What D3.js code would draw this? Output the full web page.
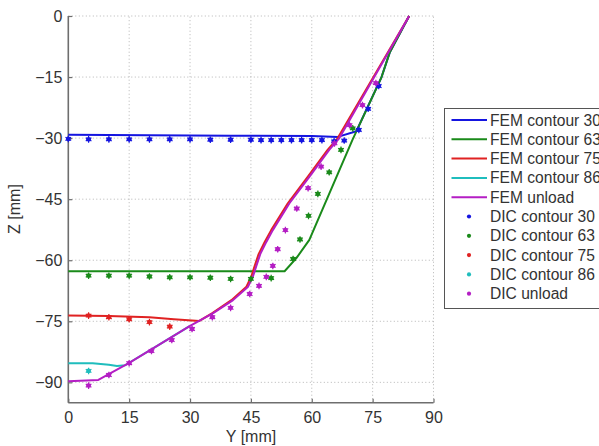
<!DOCTYPE html>
<html><head><meta charset="utf-8">
<script src="https://cdn.jsdelivr.net/npm/d3@7"></script>
<style>
html,body{margin:0;padding:0;background:#fff;}
svg{display:block;font-family:"Liberation Sans",Arial,sans-serif;}
</style></head>
<body><svg id="c" width="599" height="446"></svg>
<script>
// ---- data ----
const xTicks = [0, 15, 30, 45, 60, 75, 90];
const yTicks = [0, -15, -30, -45, -60, -75, -90];

const femNames = ["FEM contour 30", "FEM contour 63", "FEM contour 75", "FEM contour 86", "FEM unload"];
const dicNames = ["DIC contour 30", "DIC contour 63", "DIC contour 75", "DIC contour 86", "DIC unload"];
const colors = ["#1515e0", "#1a8a1a", "#e02222", "#1fbdbd", "#b41ec4"];

const fem30Y = [0, 20, 40, 60, 66.4, 71.0, 77.2, 79.2, 84];
const fem30Z = [-29.2, -29.3, -29.4, -29.5, -29.7, -28.3, -15, -9, 0];

const fem63Y = [0, 53.3, 56.2, 59.4, 70, 77.2, 79.2, 84];
const fem63Z = [-62.7, -62.7, -59.5, -55, -30.5, -15, -9, 0];

const fem75Y = [0, 10, 20, 26, 32.3, 35.5, 40.2, 43.9, 45.1, 45.9, 46.9, 48.4, 50.0, 54.1, 59.0, 63.9, 66.4, 84];
const fem75Z = [-73.6, -73.7, -74.0, -74.5, -74.9, -73.0, -69.8, -66.5, -64.0, -61.5, -58.5, -55.5, -52.6, -46, -39.5, -32.9, -30, 0];

const fem86Y = [0, 6, 10, 12, 14, 22, 29.9];
const fem86Z = [-85.3, -85.3, -85.7, -86.0, -85.8, -81.0, -76.2];

const femUnY = [0, 7.4, 14.9, 22, 29.9, 35.7, 40.6, 44.3, 45.5, 46.3, 47.3, 48.8, 50.4, 54.5, 59.4, 64.3, 66.8, 84];
const femUnZ = [-89.7, -89.4, -85.3, -81.0, -76.2, -73, -69.8, -66.5, -64, -61.5, -58.5, -55.5, -52.6, -46, -39.5, -32.9, -30, 0];

const dic30Y = [0, 5, 10, 15, 20, 25, 30, 35, 40, 45, 47.5, 50, 52.5, 55, 57.5, 60, 62.5, 65.5, 68, 71.6, 73.9, 76.5];
const dic30Z = [-30.2, -30.3, -30.3, -30.3, -30.3, -30.3, -30.3, -30.4, -30.4, -30.4, -30.5, -30.5, -30.5, -30.5, -30.5, -30.5, -30.5, -30.8, -30.6, -28, -22.8, -17.2];

const dic63Y = [5, 10, 15, 20, 25, 30, 35, 40, 45, 50, 55.4, 57.1, 59.2, 61.5, 64.3, 67.2, 70.1];
const dic63Z = [-63.8, -63.8, -63.8, -64, -64.2, -64.2, -64.3, -64.6, -64.6, -64.4, -59.7, -54.9, -49.1, -43.7, -38.4, -32.9, -27.6];

const dic75Y = [5, 10, 15, 20, 25];
const dic75Z = [-73.6, -74, -74.5, -75.2, -76.3];

const dic86Y = [5];
const dic86Z = [-87.2];

const dicUnY = [5, 10, 15, 20.5, 25.5, 30.5, 35.5, 40, 44.7, 47, 48.8, 50.4, 51.6, 53.5, 56.3, 59.1, 62.3, 65.6, 69.3, 72.5, 75.8];
const dicUnZ = [-90.8, -88.2, -85.3, -82.3, -79.6, -76.9, -74, -71.7, -68.3, -66.3, -64.1, -61.4, -57.3, -52.6, -47.3, -42.3, -37, -31.3, -26.8, -21.9, -16.5];

// ---- drawing ----
const svg = d3.select("#c");
const x = d3.scaleLinear().domain([0, 90]).range([68.3, 433.5]);
const y = d3.scaleLinear().domain([-95, 0]).range([402.7, 16]);

const femSeries = [[fem30Y, fem30Z], [fem63Y, fem63Z], [fem75Y, fem75Z], [fem86Y, fem86Z], [femUnY, femUnZ]];
const dicSeries = [[dic30Y, dic30Z], [dic63Y, dic63Z], [dic75Y, dic75Z], [dic86Y, dic86Z], [dicUnY, dicUnZ]];

// grid
const g = svg.append("g");
g.selectAll("line.gx").data(xTicks.filter(d => d > 0)).join("line")
  .attr("x1", d => x(d)).attr("x2", d => x(d)).attr("y1", y(-95)).attr("y2", y(0))
  .attr("stroke", "#b5b5b5").attr("stroke-width", 1).attr("stroke-dasharray", "1,2.5");
g.selectAll("line.gy").data(yTicks).join("line")
  .attr("y1", d => y(d)).attr("y2", d => y(d)).attr("x1", x(0)).attr("x2", x(90))
  .attr("stroke", "#b5b5b5").attr("stroke-width", 1).attr("stroke-dasharray", "1,2.5");

// axes
const axColor = "#6e6e6e";
const xAxis = svg.append("g").attr("transform", `translate(0,${y(-95)})`)
  .call(d3.axisBottom(x).tickValues(xTicks).tickSize(-4).tickPadding(9).tickFormat(d3.format("d")));
const yAxis = svg.append("g").attr("transform", `translate(${x(0)},0)`)
  .call(d3.axisLeft(y).tickValues(yTicks).tickSize(-4).tickPadding(6).tickFormat(d => d < 0 ? "\u2212" + Math.abs(d) : d));
[xAxis, yAxis].forEach(a => {
  a.select(".domain").attr("stroke", axColor).attr("stroke-width", 1.6);
  a.selectAll(".tick line").attr("stroke", axColor).attr("stroke-width", 1.2);
  a.selectAll(".tick text").attr("fill", "#333").style("font-size", "16px").style("font-family", "Liberation Sans, Arial, sans-serif");
});
xAxis.select(".domain").attr("d", `M${x(0)},0H${x(90)}`);
yAxis.select(".domain").attr("d", `M0,${y(-95)}V${y(0)}`);

svg.append("text").attr("x", 251).attr("y", 442).attr("text-anchor", "middle")
  .attr("fill", "#333").style("font-size", "16px").text("Y [mm]");
svg.append("text").attr("transform", "translate(20,209) rotate(-90)").attr("text-anchor", "middle")
  .attr("fill", "#333").style("font-size", "16px").text("Z [mm]");

// FEM lines
const line = d3.line().x(d => x(d[0])).y(d => y(d[1]));
femSeries.forEach((s, i) => {
  const pts = s[0].map((v, k) => [v, s[1][k]]);
  svg.append("path").attr("d", line(pts)).attr("fill", "none")
    .attr("stroke", colors[i]).attr("stroke-width", 2).attr("stroke-linejoin", "round");
});

// DIC markers
const ast = d3.symbol().type(d3.symbolAsterisk).size(30);
dicSeries.forEach((s, i) => {
  const pts = s[0].map((v, k) => [v, s[1][k]]);
  const gg = svg.append("g");
  gg.selectAll("circle").data(pts).join("circle")
    .attr("cx", d => x(d[0])).attr("cy", d => y(d[1])).attr("r", 2.4).attr("fill", colors[i]);
  gg.selectAll("path").data(pts).join("path")
    .attr("transform", d => `translate(${x(d[0])},${y(d[1])})`).attr("d", ast)
    .attr("fill", "none").attr("stroke", colors[i]).attr("stroke-width", 1.2);
});

// legend
const lg = svg.append("g");
lg.append("rect").attr("x", 444.5).attr("y", 108.5).attr("width", 170).attr("height", 200)
  .attr("fill", "#fff").attr("stroke", "#555").attr("stroke-width", 1);
const rowH = 19.3, row0 = 120;
femNames.forEach((n, i) => {
  const yy = row0 + i * rowH;
  lg.append("line").attr("x1", 451.5).attr("x2", 487).attr("y1", yy).attr("y2", yy)
    .attr("stroke", colors[i]).attr("stroke-width", 2);
  lg.append("text").attr("x", 490).attr("y", yy + 5.5).attr("fill", "#333").style("font-size", "15.6px").text(n);
});
dicNames.forEach((n, i) => {
  const yy = row0 + (i + 5) * rowH;
  lg.append("circle").attr("cx", 469).attr("cy", yy).attr("r", 2.1).attr("fill", colors[i]);
  lg.append("text").attr("x", 490).attr("y", yy + 5.5).attr("fill", "#333").style("font-size", "15.6px").text(n);
});
</script></body></html>
